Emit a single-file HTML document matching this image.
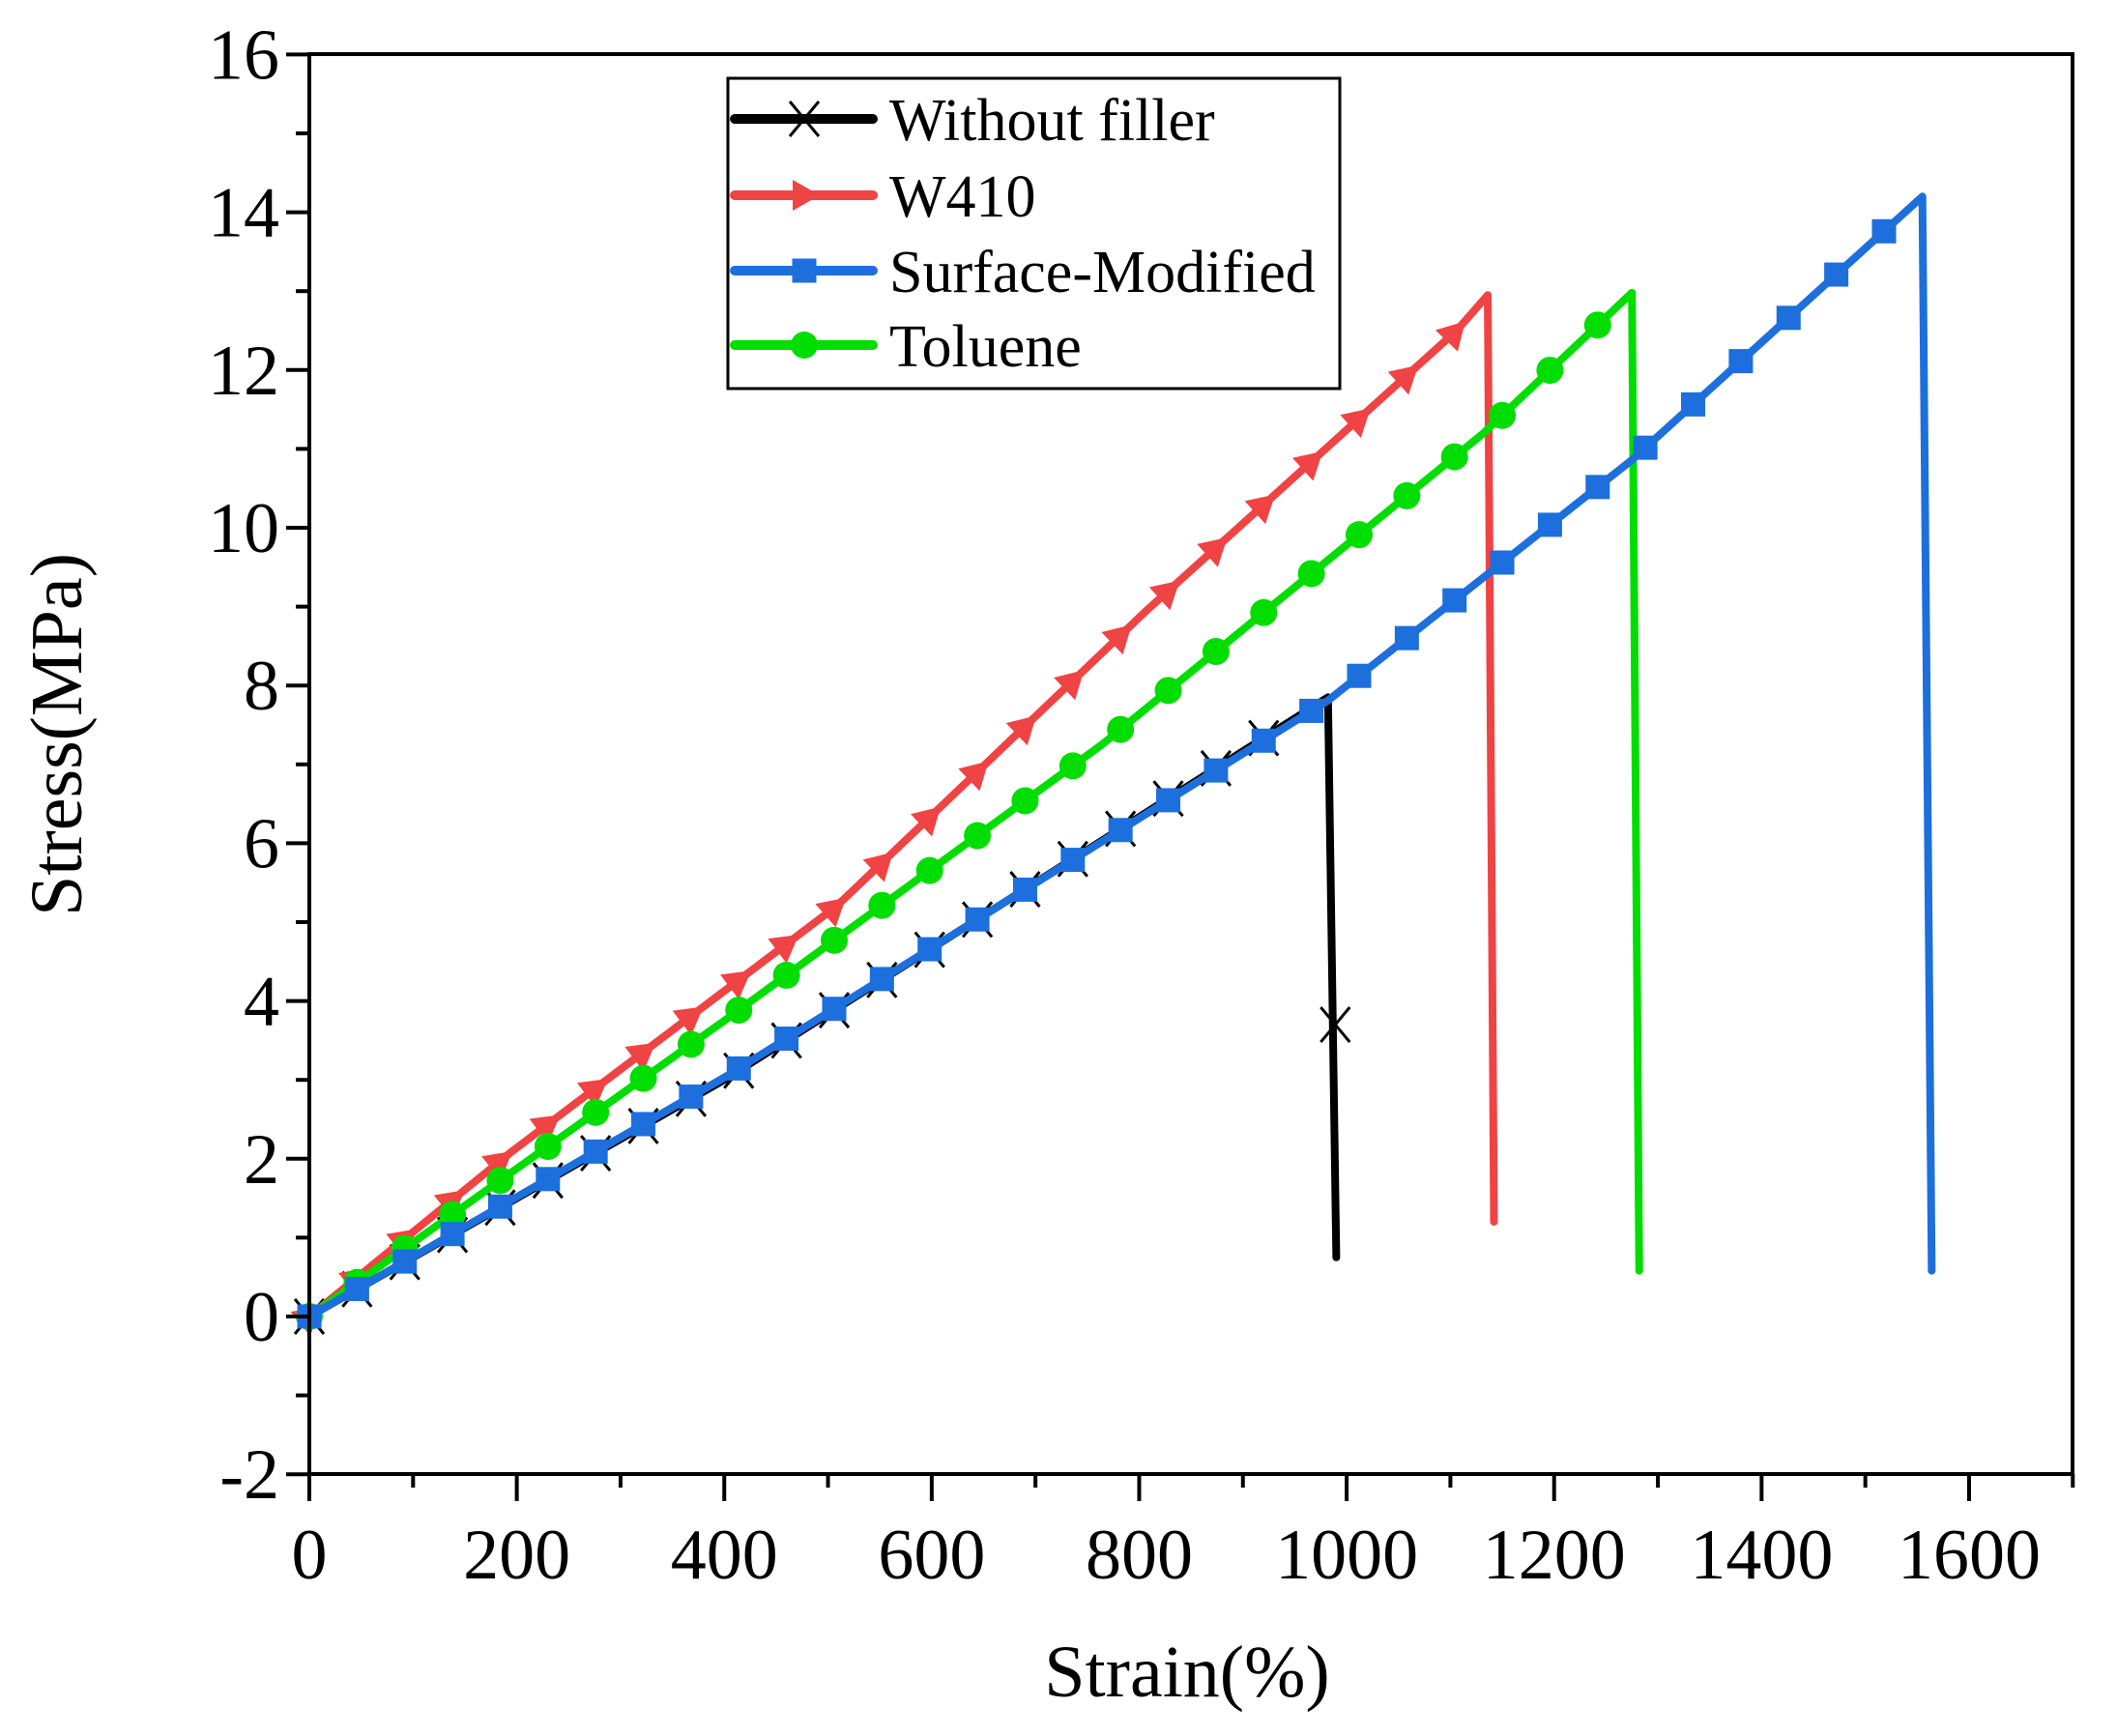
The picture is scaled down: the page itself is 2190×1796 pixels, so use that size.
<!DOCTYPE html>
<html><head><meta charset="utf-8"><style>
html,body{margin:0;padding:0;background:#fff;}
svg{display:block;font-family:"Liberation Serif",serif;}
</style></head><body>
<svg id="s" width="2190" height="1796" xmlns="http://www.w3.org/2000/svg"></svg>
<script>
const s=document.getElementById('s');
function X(v){return 320+v*1.0731;}
function Y(v){return 1362-v*81.6;}
let h='';
const series=[
 {c:'#000000',m:'x',pts:[[0,0],[400,3.0],[982,7.85],[990,0.75]],mk:[0,960]},
 {c:'#f04343',m:'t',pts:[[0,0],[196,2.1],[508,5.2],[807,8.95],[1106,12.5],[1136,12.95],[1142,1.2]],mk:[0,1110]},
 {c:'#1c6fdc',m:'s',pts:[[0,0],[400,3.03],[982,7.81],[1275,10.86],[1555,14.2],[1564,0.58]],mk:[0,1535]},
 {c:'#00dd00',m:'c',pts:[[0,0],[400,3.75],[764,7.25],[1132,11.2],[1275,12.98],[1282,0.58]],mk:[0,1280]}
];
function interp(p,x){for(let i=0;i<p.length-2;i++){if(x<=p[i+1][0]){const t=(x-p[i][0])/(p[i+1][0]-p[i][0]);return p[i][1]+t*(p[i+1][1]-p[i][1]);}}return p[p.length-2][1];}
function marker(m,x,y,c,ang){
 if(m==='x')return `<path d="M${x-15},${y-18}L${x+15},${y+18}M${x-15},${y+18}L${x+15},${y-18}" stroke="#000" stroke-width="3" fill="none"/>`;
 if(m==='s')return `<rect x="${x-12.5}" y="${y-12.5}" width="25" height="25" fill="${c}"/>`;
 if(m==='c')return `<circle cx="${x}" cy="${y}" r="14" fill="${c}"/>`;
 return `<polygon points="${x+16},${y} ${x-12},${y-16} ${x-12},${y+16}" fill="${c}" transform="rotate(${ang} ${x} ${y})"/>`;
}
const order=[0,1,3,2];
for(const k of order){const S=series[k];
 h+=`<polyline points="${S.pts.map(p=>X(p[0])+','+Y(p[1])).join(' ')}" fill="none" stroke="${S.c}" stroke-width="8" stroke-linejoin="round" stroke-linecap="round"/>`;
 for(let v=S.mk[0];v<=S.mk[1];v+=46){const y=interp(S.pts,v);const y2=interp(S.pts,v+5);
  const ang=Math.atan2(Y(y2)-Y(y),X(v+5)-X(v))*180/Math.PI;
  h+=marker(S.m,X(v),Y(y),S.c,ang);}
 if(k===0)h+=marker('x',X(989),Y(3.7),'#000',0);
}
h+=`<rect x="320" y="56" width="1824" height="1469" fill="none" stroke="#000" stroke-width="4"/>`;
for(let v=-2;v<=16;v++){const y=Y(v);const maj=v%2===0;
 h+=`<line x1="${maj?296:306}" x2="320" y1="${y}" y2="${y}" stroke="#000" stroke-width="4"/>`;
 if(maj)h+=`<text x="289" y="${y+25}" font-size="74" text-anchor="end">${v}</text>`;}
for(let v=0;v<=1700;v+=100){const x=X(v);const maj=v%200===0;
 h+=`<line x1="${x}" x2="${x}" y1="1525" y2="${maj?1553:1539}" stroke="#000" stroke-width="4"/>`;
 if(maj)h+=`<text x="${x}" y="1633" font-size="74" text-anchor="middle">${v}</text>`;}
h+=`<text x="1228" y="1755" font-size="76" text-anchor="middle">Strain(%)</text>`;
h+=`<text transform="translate(84,760) rotate(-90)" font-size="76" text-anchor="middle">Stress(MPa)</text>`;
h+=`<rect x="753" y="81" width="633" height="321" fill="#fff" stroke="#000" stroke-width="3"/>`;
const ly=[123,202,280,357],names=['Without filler','W410','Surface-Modified','Toluene'];
for(let i=0;i<4;i++){const S=series[i];
 h+=`<line x1="760" x2="903" y1="${ly[i]}" y2="${ly[i]}" stroke="${S.c}" stroke-width="10" stroke-linecap="round"/>`;
 h+=marker(S.m,832,ly[i],S.c,0);
 h+=`<text x="920" y="${ly[i]+22}" font-size="62">${names[i]}</text>`;}
s.innerHTML=h;
</script>
</body></html>
